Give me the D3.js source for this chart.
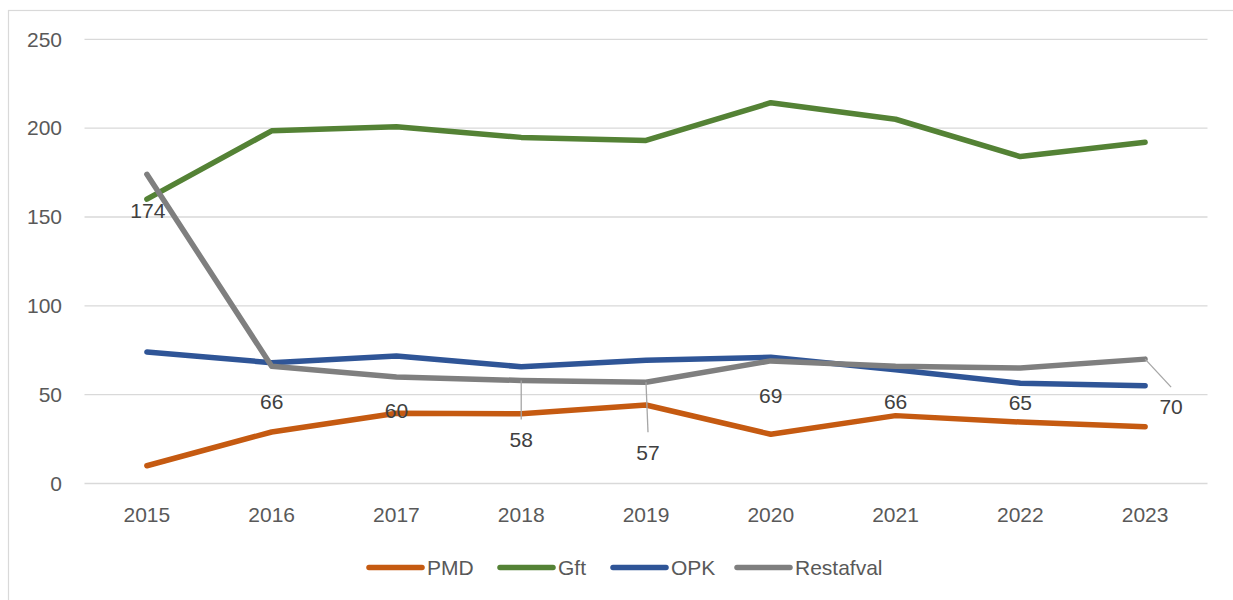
<!DOCTYPE html>
<html>
<head>
<meta charset="utf-8">
<script src="https://cdn.jsdelivr.net/npm/d3@7"></script>
<style>
  body { margin: 0; background: #fff; }
  svg { display: block; font-family: "Liberation Sans", Arial, sans-serif; }
</style>
</head>
<body>
<div id="chart"></div>
<script>
// data
const years = ["2015", "2016", "2017", "2018", "2019", "2020", "2021", "2022", "2023"];
const pmd = [10, 29, 39.5, 39.3, 44.2, 27.7, 38.2, 34.6, 32];
const gft = [160, 198.5, 200.8, 194.8, 193.1, 214.3, 205, 184, 192];
const opk = [74, 68, 71.7, 65.7, 69.4, 71, 64, 56.4, 55];
const restafval = [174, 66, 60, 58, 57, 69, 66, 65, 70];
const yTicks = [0, 50, 100, 150, 200, 250];

const series = [
    { name: "PMD", values: pmd, color: "#C55A11" },
    { name: "Gft", values: gft, color: "#548235" },
    { name: "OPK", values: opk, color: "#2F5597" },
    { name: "Restafval", values: restafval, color: "#7F7F7F" }
];

// label placement for the Restafval data labels (offset from point, px)
const labelOffsets = [
    { dx: 1, dy: 36 }, { dx: 0, dy: 35 }, { dx: 0, dy: 34 },
    { dx: 0, dy: 59, leader: true }, { dx: 2, dy: 70, leader: true },
    { dx: 0, dy: 35 }, { dx: 0, dy: 35 }, { dx: 0, dy: 35 },
    { dx: 26, dy: 48, leader: true }
];

const width = 1233, height = 600;
const fontSize = 21;

const svg = d3.select("#chart").append("svg")
    .attr("width", width)
    .attr("height", height);

// chart border
svg.append("rect")
    .attr("x", 8.5).attr("y", 10.5)
    .attr("width", 1240).attr("height", 620)
    .attr("fill", "none")
    .attr("stroke", "#D9D9D9")
    .attr("stroke-width", 1.2);

const x = d3.scalePoint()
    .domain(years)
    .range([84.5, 1207.5])
    .padding(0.5);

const y = d3.scaleLinear()
    .domain([0, 250])
    .range([483.5, 39.3]);

// gridlines
svg.append("g")
    .selectAll("line")
    .data(yTicks)
    .join("line")
    .attr("x1", 84.5)
    .attr("x2", 1207.5)
    .attr("y1", d => y(d))
    .attr("y2", d => y(d))
    .attr("stroke", "#D9D9D9")
    .attr("stroke-width", 1.3);

// y axis labels
svg.append("g")
    .selectAll("text")
    .data(yTicks)
    .join("text")
    .attr("x", 62)
    .attr("y", d => y(d))
    .attr("dy", "0.35em")
    .attr("text-anchor", "end")
    .attr("fill", "#595959")
    .style("font-size", fontSize + "px")
    .text(d => d);

// x axis labels
svg.append("g")
    .selectAll("text")
    .data(years)
    .join("text")
    .attr("x", d => x(d))
    .attr("y", 515)
    .attr("dy", "0.35em")
    .attr("text-anchor", "middle")
    .attr("fill", "#595959")
    .style("font-size", fontSize + "px")
    .text(d => d);

const line = d3.line()
    .x((d, i) => x(years[i]))
    .y(d => y(d));

svg.append("g")
    .selectAll("path")
    .data(series)
    .join("path")
    .attr("d", d => line(d.values))
    .attr("fill", "none")
    .attr("stroke", d => d.color)
    .attr("stroke-width", 5.5)
    .attr("stroke-linejoin", "round")
    .attr("stroke-linecap", "round");

// Restafval data labels
const labels = restafval.map((v, i) => ({
    value: v,
    px: x(years[i]),
    py: y(v),
    ...labelOffsets[i]
}));

svg.append("g")
    .selectAll("line")
    .data(labels.filter(d => d.leader))
    .join("line")
    .attr("x1", d => d.px)
    .attr("y1", d => d.py)
    .attr("x2", d => d.px + d.dx)
    .attr("y2", d => d.py + d.dy - 20)
    .attr("stroke", "#A6A6A6")
    .attr("stroke-width", 1.3);

svg.append("g")
    .selectAll("text")
    .data(labels)
    .join("text")
    .attr("x", d => d.px + d.dx)
    .attr("y", d => d.py + d.dy)
    .attr("dy", "0.35em")
    .attr("text-anchor", "middle")
    .attr("fill", "#404040")
    .style("font-size", fontSize + "px")
    .text(d => d.value);

// legend
const legendX = [369, 500, 613, 737];
const legend = svg.append("g")
    .selectAll("g")
    .data(series)
    .join("g")
    .attr("transform", (d, i) => `translate(${legendX[i]}, 567.5)`);

legend.append("line")
    .attr("x1", 0).attr("x2", 53)
    .attr("stroke", d => d.color)
    .attr("stroke-width", 5.5)
    .attr("stroke-linecap", "round");

legend.append("text")
    .attr("x", 58)
    .attr("dy", "0.35em")
    .attr("fill", "#595959")
    .style("font-size", fontSize + "px")
    .text(d => d.name);
</script>
</body>
</html>
